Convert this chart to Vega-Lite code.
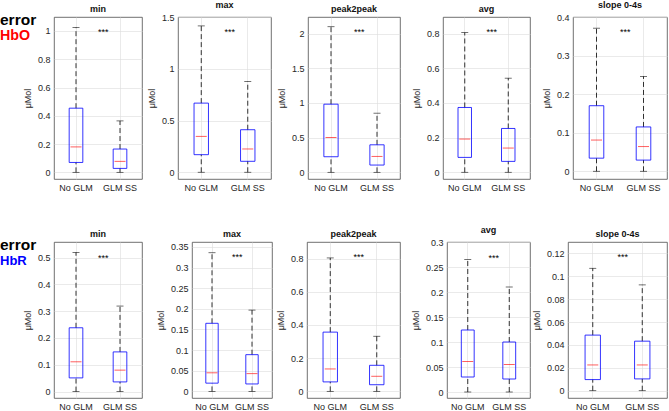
{
"$schema": "https://vega.github.io/schema/vega-lite/v6.json",
"padding": {"left": 0, "top": 0, "right": 0, "bottom": 0},
"datasets": {
"boxes": [
{"c":"HbO","m":"min","g":"No GLM","lo":0,"q1":0.07,"med":0.18,"q3":0.454,"hi":1.024},
{"c":"HbO","m":"min","g":"GLM SS","lo":0,"q1":0.028,"med":0.078,"q3":0.165,"hi":0.364},
{"c":"HbO","m":"max","g":"No GLM","lo":0,"q1":0.17,"med":0.347,"q3":0.668,"hi":1.414},
{"c":"HbO","m":"max","g":"GLM SS","lo":0,"q1":0.106,"med":0.225,"q3":0.411,"hi":0.877},
{"c":"HbO","m":"peak2peak","g":"No GLM","lo":0,"q1":0.225,"med":0.503,"q3":0.983,"hi":2.1},
{"c":"HbO","m":"peak2peak","g":"GLM SS","lo":0,"q1":0.105,"med":0.23,"q3":0.397,"hi":0.853},
{"c":"HbO","m":"avg","g":"No GLM","lo":0,"q1":0.086,"med":0.192,"q3":0.374,"hi":0.806},
{"c":"HbO","m":"avg","g":"GLM SS","lo":0,"q1":0.063,"med":0.14,"q3":0.253,"hi":0.543},
{"c":"HbO","m":"slope 0-4s","g":"No GLM","lo":0,"q1":0.034,"med":0.081,"q3":0.17,"hi":0.371},
{"c":"HbO","m":"slope 0-4s","g":"GLM SS","lo":0,"q1":0.029,"med":0.064,"q3":0.115,"hi":0.246},
{"c":"HbR","m":"min","g":"No GLM","lo":0,"q1":0.051,"med":0.111,"q3":0.238,"hi":0.519},
{"c":"HbR","m":"min","g":"GLM SS","lo":0,"q1":0.036,"med":0.08,"q3":0.148,"hi":0.319},
{"c":"HbR","m":"max","g":"No GLM","lo":0,"q1":0.02,"med":0.045,"q3":0.165,"hi":0.336},
{"c":"HbR","m":"max","g":"GLM SS","lo":0,"q1":0.018,"med":0.043,"q3":0.089,"hi":0.197},
{"c":"HbR","m":"peak2peak","g":"No GLM","lo":0,"q1":0.057,"med":0.135,"q3":0.357,"hi":0.804},
{"c":"HbR","m":"peak2peak","g":"GLM SS","lo":0,"q1":0.04,"med":0.091,"q3":0.157,"hi":0.332},
{"c":"HbR","m":"avg","g":"No GLM","lo":0,"q1":0.03,"med":0.061,"q3":0.124,"hi":0.265},
{"c":"HbR","m":"avg","g":"GLM SS","lo":0,"q1":0.026,"med":0.055,"q3":0.1,"hi":0.21},
{"c":"HbR","m":"slope 0-4s","g":"No GLM","lo":0,"q1":0.0097,"med":0.0225,"q3":0.0486,"hi":0.107},
{"c":"HbR","m":"slope 0-4s","g":"GLM SS","lo":0,"q1":0.0103,"med":0.0225,"q3":0.0433,"hi":0.0925}
],
"sig": [
{"c":"HbO","m":"min","g":"No GLM","s":"***","y":0.99},
{"c":"HbO","m":"max","g":"No GLM","s":"***","y":1.352},
{"c":"HbO","m":"peak2peak","g":"No GLM","s":"***","y":2.02},
{"c":"HbO","m":"avg","g":"No GLM","s":"***","y":0.808},
{"c":"HbO","m":"slope 0-4s","g":"No GLM","s":"***","y":0.36},
{"c":"HbR","m":"min","g":"No GLM","s":"***","y":0.5},
{"c":"HbR","m":"max","g":"No GLM","s":"***","y":0.325},
{"c":"HbR","m":"peak2peak","g":"No GLM","s":"***","y":0.808},
{"c":"HbR","m":"avg","g":"No GLM","s":"***","y":0.269},
{"c":"HbR","m":"slope 0-4s","g":"No GLM","s":"***","y":0.1166}
],
"labels": [
{"row":"HbO","line":"error"},{"row":"HbO","line":"HbO"},
{"row":"HbR","line":"error"},{"row":"HbR","line":"HbR"}
]
},
"bounds": "full",
"spacing": 32,
"vconcat": [
{"hconcat": [
{"width": 54, "height": 16, "view": {"stroke": null}, "data": {"name": "labels"}, "transform": [{"filter": "datum.row === 'HbO'"}],
 "mark": {"type": "text", "align": "left", "baseline": "middle", "fontWeight": "bold", "dy": 3},
 "encoding": {"x": {"datum": 0, "type": "quantitative", "scale": {"domain": [0, 1]}, "axis": null},
  "y": {"field": "line", "type": "nominal", "scale": {"type": "point", "padding": 0, "domain": ["error", "HbO"]}, "axis": null},
  "color": {"field": "line", "type": "nominal", "scale": {"domain": ["error", "HbO", "HbR"], "range": ["#000000", "#ff0000", "#0000ff"]}, "legend": null},
  "size": {"field": "line", "type": "nominal", "scale": {"domain": ["error", "HbO", "HbR"], "range": [15.5, 13, 13]}, "legend": null},
  "text": {"field": "line"}}},
{"width": 88, "height": 162, "title": "min", "data": {"name": "boxes"}, "transform": [{"filter": "datum.c === 'HbO' && datum.m === 'min'"}],
 "encoding": {"x": {"field": "g", "type": "nominal", "scale": {"domain": ["No GLM", "GLM SS"], "paddingInner": 0, "paddingOuter": 0}, "axis": {"title": null, "labelAngle": 0, "bandPosition": 0.5, "labelOverlap": false}}},
 "layer": [
  {"mark": {"type": "rule", "strokeDash": [5, 3], "color": "#000", "strokeWidth": 0.8}, "encoding": {"y": {"field": "lo", "type": "quantitative", "title": "μMol", "scale": {"domain": [-0.047, 1.099], "nice": false, "zero": false}, "axis": {"values": [0, 0.2, 0.4, 0.6, 0.8, 1], "tickCount": 30, "format": "~g", "labelOverlap": false}}, "y2": {"field": "q1"}}},
  {"mark": {"type": "rule", "strokeDash": [5, 3], "color": "#000", "strokeWidth": 0.8}, "encoding": {"y": {"field": "q3", "type": "quantitative", "title": "μMol"}, "y2": {"field": "hi"}}},
  {"mark": {"type": "tick", "size": 7, "thickness": 0.8, "color": "#000"}, "encoding": {"y": {"field": "lo", "type": "quantitative", "title": "μMol"}}},
  {"mark": {"type": "tick", "size": 7, "thickness": 0.8, "color": "#000"}, "encoding": {"y": {"field": "hi", "type": "quantitative", "title": "μMol"}}},
  {"mark": {"type": "bar", "width": {"band": 0.31}, "fillOpacity": 0, "stroke": "#0000ff", "strokeWidth": 0.8}, "encoding": {"y": {"field": "q1", "type": "quantitative", "title": "μMol"}, "y2": {"field": "q3"}}},
  {"mark": {"type": "tick", "size": 11, "thickness": 0.9, "color": "#ff0000"}, "encoding": {"y": {"field": "med", "type": "quantitative", "title": "μMol"}}},
  {"data": {"name": "sig"}, "transform": [{"filter": "datum.c === 'HbO' && datum.m === 'min'"}], "mark": {"type": "text", "align": "left", "baseline": "middle", "fontSize": 9, "color": "#000"}, "encoding": {"x": {"field": "g", "type": "nominal", "bandPosition": 1, "title": null}, "y": {"field": "y", "type": "quantitative", "title": "μMol"}, "text": {"field": "s"}}}
 ]},
{"width": 36, "height": 10, "view": {"stroke": null}, "data": {"values": []}, "mark": "point"},
{"width": 93, "height": 162, "title": "max", "data": {"name": "boxes"}, "transform": [{"filter": "datum.c === 'HbO' && datum.m === 'max'"}],
 "encoding": {"x": {"field": "g", "type": "nominal", "scale": {"domain": ["No GLM", "GLM SS"], "paddingInner": 0, "paddingOuter": 0}, "axis": {"title": null, "labelAngle": 0, "bandPosition": 0.5, "labelOverlap": false}}},
 "layer": [
  {"mark": {"type": "rule", "strokeDash": [5, 3], "color": "#000", "strokeWidth": 0.8}, "encoding": {"y": {"field": "lo", "type": "quantitative", "title": "μMol", "scale": {"domain": [-0.065, 1.5], "nice": false, "zero": false}, "axis": {"values": [0, 0.5, 1, 1.5], "tickCount": 30, "format": "~g", "labelOverlap": false}}, "y2": {"field": "q1"}}},
  {"mark": {"type": "rule", "strokeDash": [5, 3], "color": "#000", "strokeWidth": 0.8}, "encoding": {"y": {"field": "q3", "type": "quantitative", "title": "μMol"}, "y2": {"field": "hi"}}},
  {"mark": {"type": "tick", "size": 7, "thickness": 0.8, "color": "#000"}, "encoding": {"y": {"field": "lo", "type": "quantitative", "title": "μMol"}}},
  {"mark": {"type": "tick", "size": 7, "thickness": 0.8, "color": "#000"}, "encoding": {"y": {"field": "hi", "type": "quantitative", "title": "μMol"}}},
  {"mark": {"type": "bar", "width": {"band": 0.31}, "fillOpacity": 0, "stroke": "#0000ff", "strokeWidth": 0.8}, "encoding": {"y": {"field": "q1", "type": "quantitative", "title": "μMol"}, "y2": {"field": "q3"}}},
  {"mark": {"type": "tick", "size": 11, "thickness": 0.9, "color": "#ff0000"}, "encoding": {"y": {"field": "med", "type": "quantitative", "title": "μMol"}}},
  {"data": {"name": "sig"}, "transform": [{"filter": "datum.c === 'HbO' && datum.m === 'max'"}], "mark": {"type": "text", "align": "left", "baseline": "middle", "fontSize": 9, "color": "#000"}, "encoding": {"x": {"field": "g", "type": "nominal", "bandPosition": 1, "title": null}, "y": {"field": "y", "type": "quantitative", "title": "μMol"}, "text": {"field": "s"}}}
 ]},
{"width": 37, "height": 10, "view": {"stroke": null}, "data": {"values": []}, "mark": "point"},
{"width": 92, "height": 162, "title": "peak2peak", "data": {"name": "boxes"}, "transform": [{"filter": "datum.c === 'HbO' && datum.m === 'peak2peak'"}],
 "encoding": {"x": {"field": "g", "type": "nominal", "scale": {"domain": ["No GLM", "GLM SS"], "paddingInner": 0, "paddingOuter": 0}, "axis": {"title": null, "labelAngle": 0, "bandPosition": 0.5, "labelOverlap": false}}},
 "layer": [
  {"mark": {"type": "rule", "strokeDash": [5, 3], "color": "#000", "strokeWidth": 0.8}, "encoding": {"y": {"field": "lo", "type": "quantitative", "title": "μMol", "scale": {"domain": [-0.096, 2.24], "nice": false, "zero": false}, "axis": {"values": [0, 0.5, 1, 1.5, 2], "tickCount": 30, "format": "~g", "labelOverlap": false}}, "y2": {"field": "q1"}}},
  {"mark": {"type": "rule", "strokeDash": [5, 3], "color": "#000", "strokeWidth": 0.8}, "encoding": {"y": {"field": "q3", "type": "quantitative", "title": "μMol"}, "y2": {"field": "hi"}}},
  {"mark": {"type": "tick", "size": 7, "thickness": 0.8, "color": "#000"}, "encoding": {"y": {"field": "lo", "type": "quantitative", "title": "μMol"}}},
  {"mark": {"type": "tick", "size": 7, "thickness": 0.8, "color": "#000"}, "encoding": {"y": {"field": "hi", "type": "quantitative", "title": "μMol"}}},
  {"mark": {"type": "bar", "width": {"band": 0.31}, "fillOpacity": 0, "stroke": "#0000ff", "strokeWidth": 0.8}, "encoding": {"y": {"field": "q1", "type": "quantitative", "title": "μMol"}, "y2": {"field": "q3"}}},
  {"mark": {"type": "tick", "size": 11, "thickness": 0.9, "color": "#ff0000"}, "encoding": {"y": {"field": "med", "type": "quantitative", "title": "μMol"}}},
  {"data": {"name": "sig"}, "transform": [{"filter": "datum.c === 'HbO' && datum.m === 'peak2peak'"}], "mark": {"type": "text", "align": "left", "baseline": "middle", "fontSize": 9, "color": "#000"}, "encoding": {"x": {"field": "g", "type": "nominal", "bandPosition": 1, "title": null}, "y": {"field": "y", "type": "quantitative", "title": "μMol"}, "text": {"field": "s"}}}
 ]},
{"width": 43, "height": 10, "view": {"stroke": null}, "data": {"values": []}, "mark": "point"},
{"width": 87, "height": 162, "title": "avg", "data": {"name": "boxes"}, "transform": [{"filter": "datum.c === 'HbO' && datum.m === 'avg'"}],
 "encoding": {"x": {"field": "g", "type": "nominal", "scale": {"domain": ["No GLM", "GLM SS"], "paddingInner": 0, "paddingOuter": 0}, "axis": {"title": null, "labelAngle": 0, "bandPosition": 0.5, "labelOverlap": false}}},
 "layer": [
  {"mark": {"type": "rule", "strokeDash": [5, 3], "color": "#000", "strokeWidth": 0.8}, "encoding": {"y": {"field": "lo", "type": "quantitative", "title": "μMol", "scale": {"domain": [-0.0386, 0.896], "nice": false, "zero": false}, "axis": {"values": [0, 0.2, 0.4, 0.6, 0.8], "tickCount": 30, "format": "~g", "labelOverlap": false}}, "y2": {"field": "q1"}}},
  {"mark": {"type": "rule", "strokeDash": [5, 3], "color": "#000", "strokeWidth": 0.8}, "encoding": {"y": {"field": "q3", "type": "quantitative", "title": "μMol"}, "y2": {"field": "hi"}}},
  {"mark": {"type": "tick", "size": 7, "thickness": 0.8, "color": "#000"}, "encoding": {"y": {"field": "lo", "type": "quantitative", "title": "μMol"}}},
  {"mark": {"type": "tick", "size": 7, "thickness": 0.8, "color": "#000"}, "encoding": {"y": {"field": "hi", "type": "quantitative", "title": "μMol"}}},
  {"mark": {"type": "bar", "width": {"band": 0.31}, "fillOpacity": 0, "stroke": "#0000ff", "strokeWidth": 0.8}, "encoding": {"y": {"field": "q1", "type": "quantitative", "title": "μMol"}, "y2": {"field": "q3"}}},
  {"mark": {"type": "tick", "size": 11, "thickness": 0.9, "color": "#ff0000"}, "encoding": {"y": {"field": "med", "type": "quantitative", "title": "μMol"}}},
  {"data": {"name": "sig"}, "transform": [{"filter": "datum.c === 'HbO' && datum.m === 'avg'"}], "mark": {"type": "text", "align": "left", "baseline": "middle", "fontSize": 9, "color": "#000"}, "encoding": {"x": {"field": "g", "type": "nominal", "bandPosition": 1, "title": null}, "y": {"field": "y", "type": "quantitative", "title": "μMol"}, "text": {"field": "s"}}}
 ]},
{"width": 43, "height": 10, "view": {"stroke": null}, "data": {"values": []}, "mark": "point"},
{"width": 94, "height": 162, "title": "slope 0-4s", "data": {"name": "boxes"}, "transform": [{"filter": "datum.c === 'HbO' && datum.m === 'slope 0-4s'"}],
 "encoding": {"x": {"field": "g", "type": "nominal", "scale": {"domain": ["No GLM", "GLM SS"], "paddingInner": 0, "paddingOuter": 0}, "axis": {"title": null, "labelAngle": 0, "bandPosition": 0.5, "labelOverlap": false}}},
 "layer": [
  {"mark": {"type": "rule", "strokeDash": [5, 3], "color": "#000", "strokeWidth": 0.8}, "encoding": {"y": {"field": "lo", "type": "quantitative", "title": "μMol", "scale": {"domain": [-0.02, 0.4], "nice": false, "zero": false}, "axis": {"values": [0, 0.1, 0.2, 0.3, 0.4], "tickCount": 30, "format": "~g", "labelOverlap": false}}, "y2": {"field": "q1"}}},
  {"mark": {"type": "rule", "strokeDash": [5, 3], "color": "#000", "strokeWidth": 0.8}, "encoding": {"y": {"field": "q3", "type": "quantitative", "title": "μMol"}, "y2": {"field": "hi"}}},
  {"mark": {"type": "tick", "size": 7, "thickness": 0.8, "color": "#000"}, "encoding": {"y": {"field": "lo", "type": "quantitative", "title": "μMol"}}},
  {"mark": {"type": "tick", "size": 7, "thickness": 0.8, "color": "#000"}, "encoding": {"y": {"field": "hi", "type": "quantitative", "title": "μMol"}}},
  {"mark": {"type": "bar", "width": {"band": 0.31}, "fillOpacity": 0, "stroke": "#0000ff", "strokeWidth": 0.8}, "encoding": {"y": {"field": "q1", "type": "quantitative", "title": "μMol"}, "y2": {"field": "q3"}}},
  {"mark": {"type": "tick", "size": 11, "thickness": 0.9, "color": "#ff0000"}, "encoding": {"y": {"field": "med", "type": "quantitative", "title": "μMol"}}},
  {"data": {"name": "sig"}, "transform": [{"filter": "datum.c === 'HbO' && datum.m === 'slope 0-4s'"}], "mark": {"type": "text", "align": "left", "baseline": "middle", "fontSize": 9, "color": "#000"}, "encoding": {"x": {"field": "g", "type": "nominal", "bandPosition": 1, "title": null}, "y": {"field": "y", "type": "quantitative", "title": "μMol"}, "text": {"field": "s"}}}
 ]}
], "spacing": 0, "bounds": "flush", "align": "each"},
{"hconcat": [
{"width": 54, "height": 16, "view": {"stroke": null}, "data": {"name": "labels"}, "transform": [{"filter": "datum.row === 'HbR'"}],
 "mark": {"type": "text", "align": "left", "baseline": "middle", "fontWeight": "bold", "dy": 3},
 "encoding": {"x": {"datum": 0, "type": "quantitative", "scale": {"domain": [0, 1]}, "axis": null},
  "y": {"field": "line", "type": "nominal", "scale": {"type": "point", "padding": 0, "domain": ["error", "HbR"]}, "axis": null},
  "color": {"field": "line", "type": "nominal", "scale": {"domain": ["error", "HbO", "HbR"], "range": ["#000000", "#ff0000", "#0000ff"]}, "legend": null},
  "size": {"field": "line", "type": "nominal", "scale": {"domain": ["error", "HbO", "HbR"], "range": [15.5, 13, 13]}, "legend": null},
  "text": {"field": "line"}}},
{"width": 88, "height": 156, "title": "min", "data": {"name": "boxes"}, "transform": [{"filter": "datum.c === 'HbR' && datum.m === 'min'"}],
 "encoding": {"x": {"field": "g", "type": "nominal", "scale": {"domain": ["No GLM", "GLM SS"], "paddingInner": 0, "paddingOuter": 0}, "axis": {"title": null, "labelAngle": 0, "bandPosition": 0.5, "labelOverlap": false}}},
 "layer": [
  {"mark": {"type": "rule", "strokeDash": [5, 3], "color": "#000", "strokeWidth": 0.8}, "encoding": {"y": {"field": "lo", "type": "quantitative", "title": "μMol", "scale": {"domain": [-0.024, 0.558], "nice": false, "zero": false}, "axis": {"values": [0, 0.1, 0.2, 0.3, 0.4, 0.5], "tickCount": 30, "format": "~g", "labelOverlap": false}}, "y2": {"field": "q1"}}},
  {"mark": {"type": "rule", "strokeDash": [5, 3], "color": "#000", "strokeWidth": 0.8}, "encoding": {"y": {"field": "q3", "type": "quantitative", "title": "μMol"}, "y2": {"field": "hi"}}},
  {"mark": {"type": "tick", "size": 7, "thickness": 0.8, "color": "#000"}, "encoding": {"y": {"field": "lo", "type": "quantitative", "title": "μMol"}}},
  {"mark": {"type": "tick", "size": 7, "thickness": 0.8, "color": "#000"}, "encoding": {"y": {"field": "hi", "type": "quantitative", "title": "μMol"}}},
  {"mark": {"type": "bar", "width": {"band": 0.31}, "fillOpacity": 0, "stroke": "#0000ff", "strokeWidth": 0.8}, "encoding": {"y": {"field": "q1", "type": "quantitative", "title": "μMol"}, "y2": {"field": "q3"}}},
  {"mark": {"type": "tick", "size": 11, "thickness": 0.9, "color": "#ff0000"}, "encoding": {"y": {"field": "med", "type": "quantitative", "title": "μMol"}}},
  {"data": {"name": "sig"}, "transform": [{"filter": "datum.c === 'HbR' && datum.m === 'min'"}], "mark": {"type": "text", "align": "left", "baseline": "middle", "fontSize": 9, "color": "#000"}, "encoding": {"x": {"field": "g", "type": "nominal", "bandPosition": 1, "title": null}, "y": {"field": "y", "type": "quantitative", "title": "μMol"}, "text": {"field": "s"}}}
 ]},
{"width": 50, "height": 10, "view": {"stroke": null}, "data": {"values": []}, "mark": "point"},
{"width": 80, "height": 156, "title": "max", "data": {"name": "boxes"}, "transform": [{"filter": "datum.c === 'HbR' && datum.m === 'max'"}],
 "encoding": {"x": {"field": "g", "type": "nominal", "scale": {"domain": ["No GLM", "GLM SS"], "paddingInner": 0, "paddingOuter": 0}, "axis": {"title": null, "labelAngle": 0, "bandPosition": 0.5, "labelOverlap": false}}},
 "layer": [
  {"mark": {"type": "rule", "strokeDash": [5, 3], "color": "#000", "strokeWidth": 0.8}, "encoding": {"y": {"field": "lo", "type": "quantitative", "title": "μMol", "scale": {"domain": [-0.016, 0.362], "nice": false, "zero": false}, "axis": {"values": [0, 0.05, 0.1, 0.15, 0.2, 0.25, 0.3, 0.35], "tickCount": 30, "format": "~g", "labelOverlap": false}}, "y2": {"field": "q1"}}},
  {"mark": {"type": "rule", "strokeDash": [5, 3], "color": "#000", "strokeWidth": 0.8}, "encoding": {"y": {"field": "q3", "type": "quantitative", "title": "μMol"}, "y2": {"field": "hi"}}},
  {"mark": {"type": "tick", "size": 7, "thickness": 0.8, "color": "#000"}, "encoding": {"y": {"field": "lo", "type": "quantitative", "title": "μMol"}}},
  {"mark": {"type": "tick", "size": 7, "thickness": 0.8, "color": "#000"}, "encoding": {"y": {"field": "hi", "type": "quantitative", "title": "μMol"}}},
  {"mark": {"type": "bar", "width": {"band": 0.31}, "fillOpacity": 0, "stroke": "#0000ff", "strokeWidth": 0.8}, "encoding": {"y": {"field": "q1", "type": "quantitative", "title": "μMol"}, "y2": {"field": "q3"}}},
  {"mark": {"type": "tick", "size": 11, "thickness": 0.9, "color": "#ff0000"}, "encoding": {"y": {"field": "med", "type": "quantitative", "title": "μMol"}}},
  {"data": {"name": "sig"}, "transform": [{"filter": "datum.c === 'HbR' && datum.m === 'max'"}], "mark": {"type": "text", "align": "left", "baseline": "middle", "fontSize": 9, "color": "#000"}, "encoding": {"x": {"field": "g", "type": "nominal", "bandPosition": 1, "title": null}, "y": {"field": "y", "type": "quantitative", "title": "μMol"}, "text": {"field": "s"}}}
 ]},
{"width": 35, "height": 10, "view": {"stroke": null}, "data": {"values": []}, "mark": "point"},
{"width": 93, "height": 156, "title": "peak2peak", "data": {"name": "boxes"}, "transform": [{"filter": "datum.c === 'HbR' && datum.m === 'peak2peak'"}],
 "encoding": {"x": {"field": "g", "type": "nominal", "scale": {"domain": ["No GLM", "GLM SS"], "paddingInner": 0, "paddingOuter": 0}, "axis": {"title": null, "labelAngle": 0, "bandPosition": 0.5, "labelOverlap": false}}},
 "layer": [
  {"mark": {"type": "rule", "strokeDash": [5, 3], "color": "#000", "strokeWidth": 0.8}, "encoding": {"y": {"field": "lo", "type": "quantitative", "title": "μMol", "scale": {"domain": [-0.04, 0.9], "nice": false, "zero": false}, "axis": {"values": [0, 0.2, 0.4, 0.6, 0.8], "tickCount": 30, "format": "~g", "labelOverlap": false}}, "y2": {"field": "q1"}}},
  {"mark": {"type": "rule", "strokeDash": [5, 3], "color": "#000", "strokeWidth": 0.8}, "encoding": {"y": {"field": "q3", "type": "quantitative", "title": "μMol"}, "y2": {"field": "hi"}}},
  {"mark": {"type": "tick", "size": 7, "thickness": 0.8, "color": "#000"}, "encoding": {"y": {"field": "lo", "type": "quantitative", "title": "μMol"}}},
  {"mark": {"type": "tick", "size": 7, "thickness": 0.8, "color": "#000"}, "encoding": {"y": {"field": "hi", "type": "quantitative", "title": "μMol"}}},
  {"mark": {"type": "bar", "width": {"band": 0.31}, "fillOpacity": 0, "stroke": "#0000ff", "strokeWidth": 0.8}, "encoding": {"y": {"field": "q1", "type": "quantitative", "title": "μMol"}, "y2": {"field": "q3"}}},
  {"mark": {"type": "tick", "size": 11, "thickness": 0.9, "color": "#ff0000"}, "encoding": {"y": {"field": "med", "type": "quantitative", "title": "μMol"}}},
  {"data": {"name": "sig"}, "transform": [{"filter": "datum.c === 'HbR' && datum.m === 'peak2peak'"}], "mark": {"type": "text", "align": "left", "baseline": "middle", "fontSize": 9, "color": "#000"}, "encoding": {"x": {"field": "g", "type": "nominal", "bandPosition": 1, "title": null}, "y": {"field": "y", "type": "quantitative", "title": "μMol"}, "text": {"field": "s"}}}
 ]},
{"width": 47, "height": 10, "view": {"stroke": null}, "data": {"values": []}, "mark": "point"},
{"width": 83, "height": 156, "title": "avg", "data": {"name": "boxes"}, "transform": [{"filter": "datum.c === 'HbR' && datum.m === 'avg'"}],
 "encoding": {"x": {"field": "g", "type": "nominal", "scale": {"domain": ["No GLM", "GLM SS"], "paddingInner": 0, "paddingOuter": 0}, "axis": {"title": null, "labelAngle": 0, "bandPosition": 0.5, "labelOverlap": false}}},
 "layer": [
  {"mark": {"type": "rule", "strokeDash": [5, 3], "color": "#000", "strokeWidth": 0.8}, "encoding": {"y": {"field": "lo", "type": "quantitative", "title": "μMol", "scale": {"domain": [-0.012, 0.3], "nice": false, "zero": false}, "axis": {"values": [0, 0.05, 0.1, 0.15, 0.2, 0.25, 0.3], "tickCount": 30, "format": "~g", "labelOverlap": false}}, "y2": {"field": "q1"}}},
  {"mark": {"type": "rule", "strokeDash": [5, 3], "color": "#000", "strokeWidth": 0.8}, "encoding": {"y": {"field": "q3", "type": "quantitative", "title": "μMol"}, "y2": {"field": "hi"}}},
  {"mark": {"type": "tick", "size": 7, "thickness": 0.8, "color": "#000"}, "encoding": {"y": {"field": "lo", "type": "quantitative", "title": "μMol"}}},
  {"mark": {"type": "tick", "size": 7, "thickness": 0.8, "color": "#000"}, "encoding": {"y": {"field": "hi", "type": "quantitative", "title": "μMol"}}},
  {"mark": {"type": "bar", "width": {"band": 0.31}, "fillOpacity": 0, "stroke": "#0000ff", "strokeWidth": 0.8}, "encoding": {"y": {"field": "q1", "type": "quantitative", "title": "μMol"}, "y2": {"field": "q3"}}},
  {"mark": {"type": "tick", "size": 11, "thickness": 0.9, "color": "#ff0000"}, "encoding": {"y": {"field": "med", "type": "quantitative", "title": "μMol"}}},
  {"data": {"name": "sig"}, "transform": [{"filter": "datum.c === 'HbR' && datum.m === 'avg'"}], "mark": {"type": "text", "align": "left", "baseline": "middle", "fontSize": 9, "color": "#000"}, "encoding": {"x": {"field": "g", "type": "nominal", "bandPosition": 1, "title": null}, "y": {"field": "y", "type": "quantitative", "title": "μMol"}, "text": {"field": "s"}}}
 ]},
{"width": 38, "height": 10, "view": {"stroke": null}, "data": {"values": []}, "mark": "point"},
{"width": 99, "height": 156, "title": "slope 0-4s", "data": {"name": "boxes"}, "transform": [{"filter": "datum.c === 'HbR' && datum.m === 'slope 0-4s'"}],
 "encoding": {"x": {"field": "g", "type": "nominal", "scale": {"domain": ["No GLM", "GLM SS"], "paddingInner": 0, "paddingOuter": 0}, "axis": {"title": null, "labelAngle": 0, "bandPosition": 0.5, "labelOverlap": false}}},
 "layer": [
  {"mark": {"type": "rule", "strokeDash": [5, 3], "color": "#000", "strokeWidth": 0.8}, "encoding": {"y": {"field": "lo", "type": "quantitative", "title": "μMol", "scale": {"domain": [-0.0064, 0.13], "nice": false, "zero": false}, "axis": {"values": [0, 0.02, 0.04, 0.06, 0.08, 0.1, 0.12], "tickCount": 30, "format": "~g", "labelOverlap": false}}, "y2": {"field": "q1"}}},
  {"mark": {"type": "rule", "strokeDash": [5, 3], "color": "#000", "strokeWidth": 0.8}, "encoding": {"y": {"field": "q3", "type": "quantitative", "title": "μMol"}, "y2": {"field": "hi"}}},
  {"mark": {"type": "tick", "size": 7, "thickness": 0.8, "color": "#000"}, "encoding": {"y": {"field": "lo", "type": "quantitative", "title": "μMol"}}},
  {"mark": {"type": "tick", "size": 7, "thickness": 0.8, "color": "#000"}, "encoding": {"y": {"field": "hi", "type": "quantitative", "title": "μMol"}}},
  {"mark": {"type": "bar", "width": {"band": 0.31}, "fillOpacity": 0, "stroke": "#0000ff", "strokeWidth": 0.8}, "encoding": {"y": {"field": "q1", "type": "quantitative", "title": "μMol"}, "y2": {"field": "q3"}}},
  {"mark": {"type": "tick", "size": 11, "thickness": 0.9, "color": "#ff0000"}, "encoding": {"y": {"field": "med", "type": "quantitative", "title": "μMol"}}},
  {"data": {"name": "sig"}, "transform": [{"filter": "datum.c === 'HbR' && datum.m === 'slope 0-4s'"}], "mark": {"type": "text", "align": "left", "baseline": "middle", "fontSize": 9, "color": "#000"}, "encoding": {"x": {"field": "g", "type": "nominal", "bandPosition": 1, "title": null}, "y": {"field": "y", "type": "quantitative", "title": "μMol"}, "text": {"field": "s"}}}
 ]}
], "spacing": 0, "bounds": "flush", "align": "each"}
],
"config": {
 "font": "Liberation Sans",
 "view": {"stroke": "#4d4d4d", "strokeWidth": 0.8},
 "axis": {"domain": false, "ticks": false, "grid": true, "gridColor": "#dcdcdc", "gridWidth": 0.6, "labelFont": "Liberation Sans", "labelFontSize": 9, "labelColor": "#262626", "labelPadding": 4, "labelOverlap": false, "labelFlush": false, "titleFont": "Liberation Sans", "titleFontSize": 9, "titleFontWeight": "normal", "titleColor": "#262626", "titlePadding": 5},
 "title": {"font": "Liberation Sans", "fontSize": 9, "fontWeight": "bold", "color": "#111111", "offset": 3}
}
}
